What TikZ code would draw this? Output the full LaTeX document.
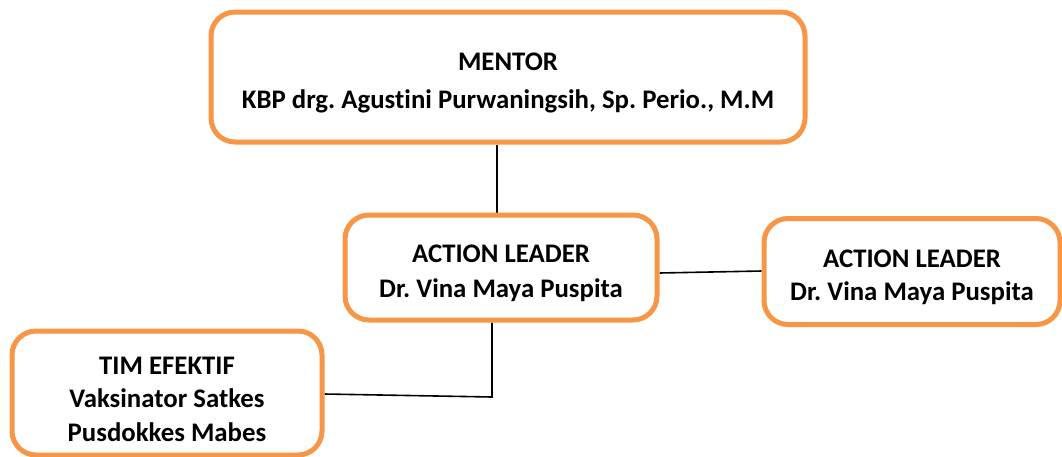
\documentclass[tikz,border=0pt]{standalone}
\usepackage{fontspec}
\setmainfont{Carlito}[RawFeature=-liga]
\usetikzlibrary{backgrounds}
\definecolor{boxorange}{HTML}{F79646}
\newcommand{\topstrut}{\rule{0pt}{30pt}}
\tikzset{
  orgbox/.style={draw=boxorange, line width=5pt, rounded corners=24pt, fill=white,
    rectangle, inner sep=0pt, align=center,
    font=\fontsize{26.8}{35}\selectfont\bfseries\frenchspacing},
  link/.style={draw=black, line width=1.6pt}
}
\begin{document}
\begin{tikzpicture}[x=1pt,y=-1pt]
\useasboundingbox (0,0) rectangle (1062,456);
\node[orgbox, minimum width=594pt, minimum height=130pt,
  font=\fontsize{26.8}{38}\selectfont\bfseries\frenchspacing] (mentor) at (508,77)
  {\topstrut MENTOR\\KBP drg. Agustini Purwaningsih, Sp. Perio., M.M};
\node[orgbox, minimum width=312pt, minimum height=105pt] (action) at (501,267.5)
  {\topstrut ACTION LEADER\\Dr. Vina Maya Puspita};
\node[orgbox, minimum width=296pt, minimum height=106pt,
  font=\fontsize{26.8}{33}\selectfont\bfseries\frenchspacing] (right) at (912,271.5)
  {\topstrut ACTION LEADER\\Dr. Vina Maya Puspita};
\node[orgbox, minimum width=310pt, minimum height=124pt,
  font=\fontsize{26.8}{33.5}\selectfont\bfseries\frenchspacing] (tim) at (167,393)
  {\topstrut TIM EFEKTIF\\Vaksinator Satkes\\Pusdokkes Mabes};
\coordinate (vx) at (497,0);
\coordinate (corner) at (492,397);
\begin{scope}[on background layer]
\draw[link] (mentor.south -| vx) -- (action.north -| vx);
\draw[link] ([yshift=-5.5pt]action.east) -- ([yshift=0.5pt]right.west);
\draw[link] (action.south -| corner) -- (corner) -- ([yshift=-1pt]tim.east);
\end{scope}
\end{tikzpicture}
\end{document}
